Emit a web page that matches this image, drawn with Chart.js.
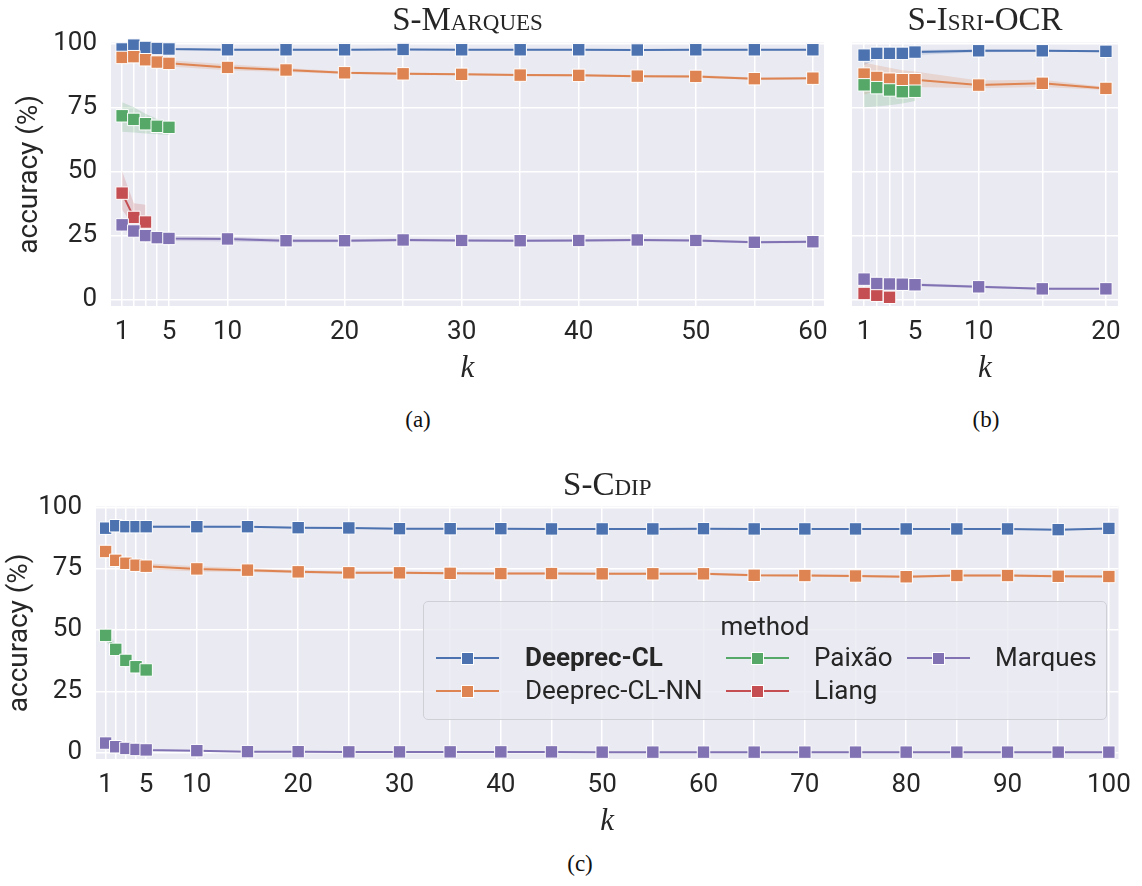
<!DOCTYPE html>
<html>
<head>
<meta charset="utf-8">
<script src="https://cdn.jsdelivr.net/npm/chart.js@4/dist/chart.umd.min.js"></script>
<style>
  html,body{margin:0;padding:0;background:#fff;}
  body{width:1142px;height:886px;position:relative;overflow:hidden;}
  canvas{position:absolute;}
  .cap{position:absolute;font-family:'Liberation Serif',serif;font-size:23px;color:#111;transform:translate(-50%,-50%);white-space:nowrap;}
  #legend{position:absolute;left:423px;top:601px;width:684px;height:119px;box-sizing:border-box;border:1px solid #cfcfd6;border-radius:5px;background:rgba(234,234,242,0.8);}
  #legend .t{position:absolute;font-family:Roboto,sans-serif;font-size:26px;color:#262626;line-height:30px;white-space:nowrap;}
  #legend .ln{position:absolute;height:2px;}
  #legend .mk{position:absolute;width:11px;height:11px;border:1px solid #fff;}
</style>
</head>
<body>
<canvas id="ca" width="840" height="400" style="left:0;top:0;width:840px;height:400px"></canvas>
<canvas id="cb" width="302" height="400" style="left:840px;top:0;width:302px;height:400px"></canvas>
<canvas id="cc" width="1142" height="380" style="left:0;top:460px;width:1142px;height:380px"></canvas>
<div class="cap" style="left:418px;top:420px">(a)</div>
<div class="cap" style="left:986px;top:420px">(b)</div>
<div class="cap" style="left:580px;top:864px">(c)</div>
<div id="legend"></div>
<script>
// ---------------- data ----------------
const methods = ['Deeprec-CL', 'Deeprec-CL-NN', 'Paixão', 'Liang', 'Marques'];
const yTicks = [0, 25, 50, 75, 100];

// (a) S-Marques
const kA = [1, 2, 3, 4, 5, 10, 15, 20, 25, 30, 35, 40, 45, 50, 55, 60];
const kA5 = [1, 2, 3, 4, 5];
const kA3 = [1, 2, 3];
const tickLabelsA = [1, 5, 10, 20, 30, 40, 50, 60];
const deeprecA = [97.8, 99.3, 98.4, 98.0, 97.8, 97.5, 97.5, 97.5, 97.6, 97.5, 97.5, 97.5, 97.4, 97.5, 97.5, 97.5];
const deeprecA_lo = [97.0, 98.6, 97.8, 97.5, 97.3, 97.1, 97.1, 97.2, 97.3, 97.2, 97.2, 97.2, 97.1, 97.2, 97.2, 97.2];
const deeprecA_hi = [98.6, 100.0, 99.0, 98.5, 98.3, 97.9, 97.9, 97.8, 97.9, 97.8, 97.8, 97.8, 97.7, 97.8, 97.8, 97.8];
const nnA = [94.5, 94.8, 93.6, 92.7, 92.2, 90.6, 89.6, 88.5, 88.1, 87.9, 87.6, 87.5, 87.2, 87.1, 86.2, 86.4];
const nnA_lo = [93.0, 93.5, 92.5, 91.5, 91.0, 89.5, 88.8, 88.0, 87.6, 87.5, 87.2, 87.1, 86.8, 86.6, 85.7, 86.0];
const nnA_hi = [96.0, 96.0, 94.7, 93.8, 93.4, 91.8, 90.4, 89.0, 88.6, 88.3, 88.0, 87.9, 87.6, 87.6, 86.7, 86.8];
const paixaoA = [71.7, 70.3, 68.6, 67.6, 67.2];
const paixaoA_lo = [65.5, 65.2, 64.8, 64.5, 64.2];
const paixaoA_hi = [77.0, 75.0, 72.5, 70.5, 69.5];
const liangA = [41.5, 32.0, 30.2];
const liangA_lo = [35.0, 28.5, 27.5];
const liangA_hi = [50.0, 37.5, 37.0];
const marquesA = [29.1, 26.7, 24.9, 24.1, 23.8, 23.6, 22.9, 22.9, 23.2, 23.0, 22.9, 23.0, 23.2, 23.0, 22.3, 22.5];
const marquesA_lo = [27.0, 25.0, 23.5, 23.0, 22.8, 22.6, 22.2, 22.3, 22.6, 22.5, 22.4, 22.5, 22.7, 22.5, 21.8, 22.0];
const marquesA_hi = [31.0, 28.3, 26.2, 25.2, 24.8, 24.5, 23.6, 23.5, 23.8, 23.5, 23.4, 23.5, 23.7, 23.5, 22.8, 23.0];

// (b) S-Isri-OCR
const kB = [1, 2, 3, 4, 5, 10, 15, 20];
const kB5 = [1, 2, 3, 4, 5];
const kB3 = [1, 2, 3];
const tickLabelsB = [1, 5, 10, 20];
const deeprecB = [95.4, 96.1, 96.1, 96.1, 96.6, 97.1, 97.1, 96.9];
const deeprecB_lo = [91.5, 94.0, 94.5, 95.0, 95.5, 96.5, 96.7, 96.5];
const deeprecB_hi = [97.0, 97.2, 97.2, 97.2, 97.4, 97.7, 97.5, 97.3];
const nnB = [88.0, 86.7, 86.0, 85.8, 85.8, 83.7, 84.4, 82.4];
const nnB_lo = [80.0, 81.5, 82.0, 82.5, 83.0, 82.5, 83.0, 81.8];
const nnB_hi = [92.5, 91.5, 90.5, 89.5, 89.0, 85.5, 85.8, 83.0];
const paixaoB = [83.8, 82.7, 81.8, 81.1, 81.3];
const paixaoB_lo = [75.0, 75.3, 75.8, 76.5, 77.5];
const paixaoB_hi = [88.5, 87.5, 86.5, 85.5, 85.0];
const liangB = [2.3, 1.6, 0.8];
const marquesB = [7.9, 6.2, 6.0, 5.9, 5.7, 4.9, 4.1, 4.1];
const marquesB_lo = [6.5, 5.5, 5.4, 5.3, 5.1, 4.4, 3.7, 3.7];
const marquesB_hi = [9.0, 7.0, 6.6, 6.4, 6.3, 5.4, 4.5, 4.5];

// (c) S-Cdip
const kC = [1, 2, 3, 4, 5, 10, 15, 20, 25, 30, 35, 40, 45, 50, 55, 60, 65, 70, 75, 80, 85, 90, 95, 100];
const kC5 = [1, 2, 3, 4, 5];
const tickLabelsC = [1, 5, 10, 20, 30, 40, 50, 60, 70, 80, 90, 100];
const deeprecC = [91.5, 92.5, 92.1, 92.1, 92.1, 92.1, 92.1, 91.7, 91.6, 91.3, 91.3, 91.3, 91.2, 91.2, 91.2, 91.3, 91.2, 91.2, 91.2, 91.2, 91.2, 91.2, 90.9, 91.4];
const deeprecC_lo = [90.5, 91.8, 91.6, 91.6, 91.6, 91.7, 91.8, 91.4, 91.3, 91.0, 91.0, 91.0, 90.9, 90.9, 90.9, 91.0, 90.9, 90.9, 90.9, 90.9, 90.9, 90.9, 90.6, 91.1];
const deeprecC_hi = [92.5, 93.2, 92.6, 92.6, 92.6, 92.5, 92.4, 92.0, 91.9, 91.6, 91.6, 91.6, 91.5, 91.5, 91.5, 91.6, 91.5, 91.5, 91.5, 91.5, 91.5, 91.5, 91.2, 91.7];
const nnC = [82.0, 78.4, 77.2, 76.4, 76.0, 74.9, 74.4, 73.7, 73.3, 73.3, 73.1, 73.0, 73.0, 72.9, 72.9, 72.9, 72.3, 72.2, 72.0, 71.7, 72.2, 72.2, 71.9, 71.8];
const nnC_lo = [81.0, 77.5, 76.2, 75.3, 74.8, 73.8, 73.6, 73.1, 72.8, 72.8, 72.6, 72.5, 72.5, 72.4, 72.4, 72.4, 71.8, 71.7, 71.5, 71.2, 71.7, 71.7, 71.4, 71.3];
const nnC_hi = [83.0, 79.3, 78.2, 77.5, 77.2, 76.0, 75.2, 74.3, 73.8, 73.8, 73.6, 73.5, 73.5, 73.4, 73.4, 73.4, 72.8, 72.7, 72.5, 72.2, 72.7, 72.7, 72.4, 72.3];
const paixaoC = [47.8, 42.1, 37.6, 35.0, 33.7];
const paixaoC_lo = [45.5, 40.5, 36.5, 34.2, 33.0];
const paixaoC_hi = [51.0, 44.0, 39.0, 36.0, 34.5];
const marquesC = [3.9, 2.4, 1.7, 1.3, 1.1, 0.8, 0.4, 0.4, 0.3, 0.3, 0.3, 0.3, 0.3, 0.2, 0.2, 0.2, 0.2, 0.2, 0.2, 0.2, 0.2, 0.2, 0.2, 0.2];

// ---------------- styles ----------------
const COLORS = ['#4C72B0', '#DD8452', '#55A868', '#C44E52', '#8172B3'];
const BANDS = ['rgba(76,114,176,0.2)', 'rgba(221,132,82,0.2)', 'rgba(85,168,104,0.2)', 'rgba(196,78,82,0.2)', 'rgba(129,114,179,0.2)'];
const TXT = '#262626';
const SANS = 'Roboto, sans-serif';
const SERIF = "'Liberation Serif', serif";

function pts(xs, ys) { return xs.map((x, i) => ({ x: x, y: ys[i] })); }
function line(mi, xs, ys) {
  return {
    label: methods[mi], data: pts(xs, ys), borderColor: COLORS[mi], backgroundColor: COLORS[mi],
    borderWidth: 2, pointStyle: 'rect', pointRadius: 8.8, pointHoverRadius: 8.8,
    pointBackgroundColor: COLORS[mi], pointBorderColor: '#ffffff', pointBorderWidth: 1,
    fill: false, tension: 0, order: 5 - mi, clip: false
  };
}
function band(mi, xs, lo, hi) {
  return [
    { label: '_lo', data: pts(xs, lo), borderWidth: 0, pointRadius: 0, fill: false, order: 20 - mi },
    { label: '_hi', data: pts(xs, hi), borderWidth: 0, pointRadius: 0, backgroundColor: BANDS[mi], fill: '-1', order: 20 - mi }
  ];
}

const bg = {
  id: 'bg',
  beforeDraw(chart) {
    const { ctx, chartArea: a } = chart;
    ctx.save(); ctx.fillStyle = '#EAEAF2'; ctx.fillRect(a.left, a.top, a.right - a.left, a.bottom - a.top); ctx.restore();
  }
};

function makeChart(id, cfg) {
  return new Chart(document.getElementById(id), {
    type: 'line',
    data: { datasets: cfg.datasets },
    options: {
      responsive: false, animation: false, devicePixelRatio: 1, events: [],
      layout: { padding: { left: 0, top: 0, right: cfg.padRight, bottom: 0 } },
      plugins: {
        legend: { display: false }, tooltip: { enabled: false },
        title: {
          display: true, text: cfg.title, fullSize: false, color: TXT,
          font: { family: SERIF, size: 33, weight: 'small-caps', lineHeight: 1.2 },
          padding: { top: cfg.titleTop, bottom: cfg.titleBottom }
        }
      },
      scales: {
        x: {
          type: 'linear', min: 0.05, max: cfg.xmax, bounds: 'data',
          afterBuildTicks: s => { s.ticks = cfg.xTicks.map(v => ({ value: v })); },
          afterFit: s => { s.height = cfg.xAxisH; },
          ticks: { autoSkip: false, maxRotation: 0, minRotation: 0, padding: 11, color: TXT,
                   font: { family: SANS, size: 26 },
                   callback: v => cfg.xLabels.includes(v) ? String(v) : '' },
          grid: { color: '#ffffff', lineWidth: 1.5, drawTicks: false },
          border: { display: false },
          title: { display: true, text: 'k', color: TXT,
                   font: { family: SERIF, style: 'italic', size: 31, lineHeight: 1.2 },
                   padding: { top: 0, bottom: cfg.kPad } }
        },
        y: {
          type: 'linear', min: -2.6, max: 100.3, bounds: 'data',
          afterBuildTicks: s => { s.ticks = yTicks.map(v => ({ value: v })); },
          afterFit: s => { s.width = cfg.yAxisW; },
          ticks: { display: cfg.yLabels, padding: 14, color: TXT, font: { family: SANS, size: 26 } },
          grid: { color: '#ffffff', lineWidth: 1.5, drawTicks: false },
          border: { display: false },
          title: { display: cfg.yLabels, text: 'accuracy (%)', color: TXT,
                   font: { family: SANS, size: 28, lineHeight: 1.2 },
                   padding: { top: cfg.yTitlePad, bottom: 0 } }
        }
      }
    },
    plugins: [bg]
  });
}

function buildLegend() {
  const L = document.getElementById('legend');
  const add = (html) => { L.insertAdjacentHTML('beforeend', html); };
  add('<div class="t" style="left:0;width:100%;text-align:center;top:9px">method</div>');
  const items = [
    { mi: 0, col: 0, row: 0, bold: true }, { mi: 1, col: 0, row: 1 },
    { mi: 2, col: 1, row: 0 }, { mi: 3, col: 1, row: 1 },
    { mi: 4, col: 2, row: 0 }
  ];
  const colLine = [12, 302, 483];
  const colText = [101, 390, 571];
  const rowY = [56, 89];
  items.forEach(it => {
    const c = COLORS[it.mi];
    const lx = colLine[it.col], y = rowY[it.row];
    add(`<div class="ln" style="left:${lx}px;top:${y - 1}px;width:63px;background:${c}"></div>`);
    add(`<div class="mk" style="left:${lx + 25}px;top:${y - 6}px;background:${c}"></div>`);
    add(`<div class="t" style="left:${colText[it.col]}px;top:${y - 16}px;${it.bold ? 'font-weight:bold;' : ''}">${methods[it.mi]}</div>`);
  });
}

function render() {
  makeChart('ca', {
    title: 'S-Marques', titleTop: 2, titleBottom: 1, padRight: 16, xmax: 60.95,
    xTicks: kA, xLabels: tickLabelsA, xAxisH: 94, kPad: 13, yAxisW: 111, yLabels: true, yTitlePad: 13,
    datasets: [
      ...band(0, kA, deeprecA_lo, deeprecA_hi), ...band(1, kA, nnA_lo, nnA_hi),
      ...band(2, kA5, paixaoA_lo, paixaoA_hi), ...band(3, kA3, liangA_lo, liangA_hi),
      ...band(4, kA, marquesA_lo, marquesA_hi),
      line(0, kA, deeprecA), line(1, kA, nnA), line(2, kA5, paixaoA), line(3, kA3, liangA), line(4, kA, marquesA)
    ]
  });
  makeChart('cb', {
    title: 'S-Isri-OCR', titleTop: 2, titleBottom: 1, padRight: 24, xmax: 20.95,
    xTicks: kB, xLabels: tickLabelsB, xAxisH: 94, kPad: 13, yAxisW: 12, yLabels: false, yTitlePad: 0,
    datasets: [
      ...band(0, kB, deeprecB_lo, deeprecB_hi), ...band(1, kB, nnB_lo, nnB_hi),
      ...band(2, kB5, paixaoB_lo, paixaoB_hi), ...band(4, kB, marquesB_lo, marquesB_hi),
      line(0, kB, deeprecB), line(1, kB, nnB), line(2, kB5, paixaoB), line(3, kB3, liangB), line(4, kB, marquesB)
    ]
  });
  makeChart('cc', {
    title: 'S-Cdip', titleTop: 7, titleBottom: 0, padRight: 21, xmax: 100.95,
    xTicks: kC, xLabels: tickLabelsC, xAxisH: 81, kPad: 0, yAxisW: 96, yLabels: true, yTitlePad: 3,
    datasets: [
      ...band(0, kC, deeprecC_lo, deeprecC_hi), ...band(1, kC, nnC_lo, nnC_hi),
      ...band(2, kC5, paixaoC_lo, paixaoC_hi),
      line(0, kC, deeprecC), line(1, kC, nnC), line(2, kC5, paixaoC), line(4, kC, marquesC)
    ]
  });
  buildLegend();
}

Promise.all([
  document.fonts.load('26px Roboto'), document.fonts.load('bold 26px Roboto'),
  document.fonts.load('33px "Liberation Serif"'), document.fonts.load('italic 30px "Liberation Serif"')
]).then(render, render);
</script>
</body>
</html>
